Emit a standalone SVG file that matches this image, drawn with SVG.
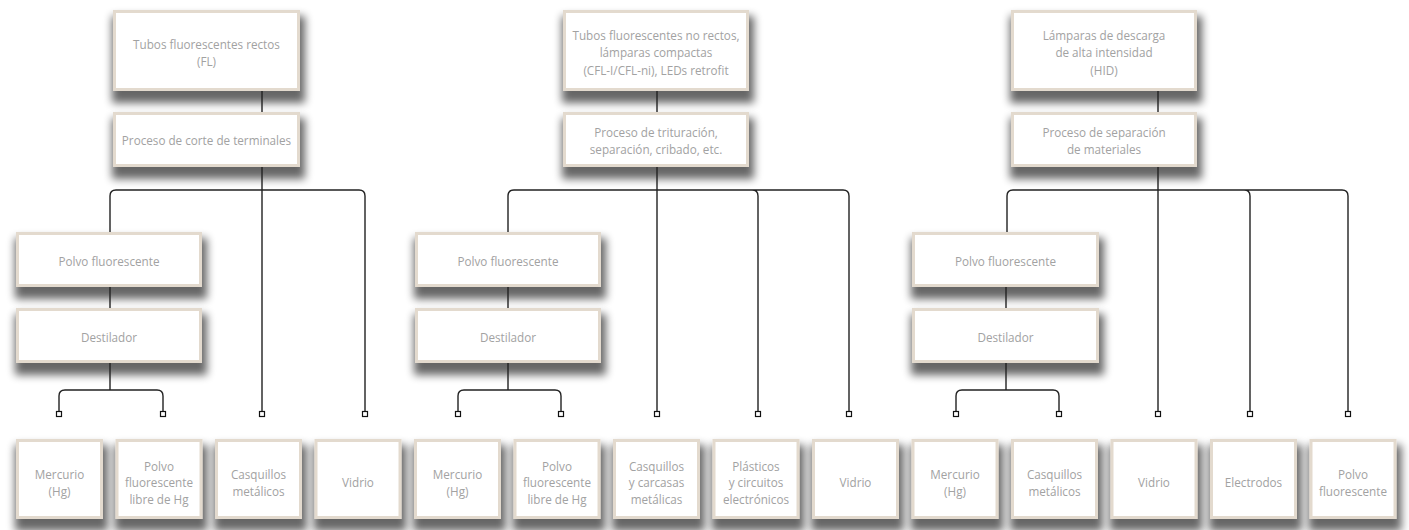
<svg xmlns="http://www.w3.org/2000/svg" width="1409" height="530" viewBox="0 0 1409 530">
<defs>
<filter id="sh" x="-30%" y="-30%" width="165%" height="190%">
<feMorphology in="SourceAlpha" operator="dilate" radius="3"/>
<feGaussianBlur stdDeviation="4"/>
<feOffset dx="2" dy="9" result="o"/>
<feComponentTransfer><feFuncA type="linear" slope="0.6"/></feComponentTransfer>
<feMerge><feMergeNode/><feMergeNode in="SourceGraphic"/></feMerge>
</filter>
</defs>
<style>
.b{fill:#fff;stroke:#e3dace;stroke-width:3;filter:url(#sh)}
.t{font-family:"Open Sans","Liberation Sans",sans-serif;font-size:11.7px;fill:#a2a2a2;text-anchor:middle}
.c{fill:none;stroke:#222;stroke-width:1.4}
.sq{fill:#fff;stroke:#111;stroke-width:1.2}
</style>
<rect width="1409" height="530" fill="#fff"/>
<g id="nodes">
<g id="fl"><rect class="b" x="114.5" y="11.5" width="184" height="78"/><text class="t" x="206.5" y="48.5">Tubos fluorescentes rectos</text><text class="t" x="206.5" y="66">(FL)</text></g>
<g id="p1"><rect class="b" x="114.5" y="113.5" width="184" height="52"/><text class="t" x="206.5" y="145">Proceso de corte de terminales</text></g>
<g id="pf1"><rect class="b" x="17.5" y="233.5" width="183" height="52"/><text class="t" x="109" y="265.5">Polvo fluorescente</text></g>
<g id="d1"><rect class="b" x="17.5" y="309.5" width="183" height="52"/><text class="t" x="109" y="341.5">Destilador</text></g>

<g id="cfl"><rect class="b" x="564.5" y="11.5" width="183" height="78"/><text class="t" x="656" y="39.5">Tubos fluorescentes no rectos,</text><text class="t" x="656" y="57">lámparas compactas</text><text class="t" x="656" y="74.5">(CFL-I/CFL-ni), LEDs retrofit</text></g>
<g id="p2"><rect class="b" x="564.5" y="113.5" width="183" height="52"/><text class="t" x="656" y="137">Proceso de trituración,</text><text class="t" x="656" y="154">separación, cribado, etc.</text></g>
<g id="pf2"><rect class="b" x="416.5" y="233.5" width="183" height="52"/><text class="t" x="508" y="265.5">Polvo fluorescente</text></g>
<g id="d2"><rect class="b" x="416.5" y="309.5" width="183" height="52"/><text class="t" x="508" y="341.5">Destilador</text></g>

<g id="hid"><rect class="b" x="1012.5" y="11.5" width="183" height="78"/><text class="t" x="1104" y="39.5">Lámparas de descarga</text><text class="t" x="1104" y="57">de alta intensidad</text><text class="t" x="1104" y="74.5">(HID)</text></g>
<g id="p3"><rect class="b" x="1012.5" y="113.5" width="183" height="52"/><text class="t" x="1104" y="137">Proceso de separación</text><text class="t" x="1104" y="154">de materiales</text></g>
<g id="pf3"><rect class="b" x="913.5" y="233.5" width="184" height="52"/><text class="t" x="1005.5" y="265.5">Polvo fluorescente</text></g>
<g id="d3"><rect class="b" x="913.5" y="309.5" width="184" height="52"/><text class="t" x="1005.5" y="341.5">Destilador</text></g>

<g id="o1"><rect class="b" x="17.5" y="440.5" width="84" height="77"/><text class="t" x="59.5" y="478.5">Mercurio</text><text class="t" x="59.5" y="495.5">(Hg)</text></g>
<g id="o2"><rect class="b" x="117" y="440.5" width="84" height="77"/><text class="t" x="159" y="470.5">Polvo</text><text class="t" x="159" y="487">fluorescente</text><text class="t" x="159" y="503.5">libre de Hg</text></g>
<g id="o3"><rect class="b" x="216.5" y="440.5" width="84" height="77"/><text class="t" x="258.5" y="478.5">Casquillos</text><text class="t" x="258.5" y="495.5">metálicos</text></g>
<g id="o4"><rect class="b" x="316" y="440.5" width="84" height="77"/><text class="t" x="358" y="487">Vidrio</text></g>
<g id="o5"><rect class="b" x="415.5" y="440.5" width="84" height="77"/><text class="t" x="457.5" y="478.5">Mercurio</text><text class="t" x="457.5" y="495.5">(Hg)</text></g>
<g id="o6"><rect class="b" x="515" y="440.5" width="84" height="77"/><text class="t" x="557" y="470.5">Polvo</text><text class="t" x="557" y="487">fluorescente</text><text class="t" x="557" y="503.5">libre de Hg</text></g>
<g id="o7"><rect class="b" x="614.5" y="440.5" width="84" height="77"/><text class="t" x="656.5" y="470.5">Casquillos</text><text class="t" x="656.5" y="487">y carcasas</text><text class="t" x="656.5" y="503.5">metálicas</text></g>
<g id="o8"><rect class="b" x="714" y="440.5" width="84" height="77"/><text class="t" x="756" y="470.5">Plásticos</text><text class="t" x="756" y="487">y circuitos</text><text class="t" x="756" y="503.5">electrónicos</text></g>
<g id="o9"><rect class="b" x="813.5" y="440.5" width="84" height="77"/><text class="t" x="855.5" y="487">Vidrio</text></g>
<g id="o10"><rect class="b" x="913" y="440.5" width="84" height="77"/><text class="t" x="955" y="478.5">Mercurio</text><text class="t" x="955" y="495.5">(Hg)</text></g>
<g id="o11"><rect class="b" x="1012.5" y="440.5" width="84" height="77"/><text class="t" x="1054.5" y="478.5">Casquillos</text><text class="t" x="1054.5" y="495.5">metálicos</text></g>
<g id="o12"><rect class="b" x="1112" y="440.5" width="84" height="77"/><text class="t" x="1154" y="487">Vidrio</text></g>
<g id="o13"><rect class="b" x="1211.5" y="440.5" width="84" height="77"/><text class="t" x="1253.5" y="487">Electrodos</text></g>
<g id="o14"><rect class="b" x="1311" y="440.5" width="84" height="77"/><text class="t" x="1353" y="478.5">Polvo</text><text class="t" x="1353" y="495.5">fluorescente</text></g>
</g>
<g id="connectors">
<path class="c" d="M262,91V112M262,167V411.5M110,232V196Q110,190 116,190H359Q365,190 365,196V411.5M110,287V308M110,363V390M59,411.5V396Q59,390 65,390H157Q163,390 163,396V411.5"/>
<path class="c" d="M657,91V112M657,167V411.5M508,232V196Q508,190 514,190H843Q849,190 849,196V411.5M752,190Q758,190 758,196V411.5M508,287V308M508,363V390M458,411.5V396Q458,390 464,390H555Q561,390 561,396V411.5"/>
<path class="c" d="M1158,91V112M1158,167V411.5M1007,232V196Q1007,190 1013,190H1342Q1348,190 1348,196V411.5M1244,190Q1250,190 1250,196V411.5M1006,287V308M1006,363V390M956,411.5V396Q956,390 962,390H1053Q1059,390 1059,396V411.5"/>
<g id="ends">
<rect class="sq" x="56.5" y="411.5" width="5" height="5"/>
<rect class="sq" x="160.5" y="411.5" width="5" height="5"/>
<rect class="sq" x="259.5" y="411.5" width="5" height="5"/>
<rect class="sq" x="362.5" y="411.5" width="5" height="5"/>
<rect class="sq" x="455.5" y="411.5" width="5" height="5"/>
<rect class="sq" x="558.5" y="411.5" width="5" height="5"/>
<rect class="sq" x="654.5" y="411.5" width="5" height="5"/>
<rect class="sq" x="755.5" y="411.5" width="5" height="5"/>
<rect class="sq" x="846.5" y="411.5" width="5" height="5"/>
<rect class="sq" x="953.5" y="411.5" width="5" height="5"/>
<rect class="sq" x="1056.5" y="411.5" width="5" height="5"/>
<rect class="sq" x="1155.5" y="411.5" width="5" height="5"/>
<rect class="sq" x="1247.5" y="411.5" width="5" height="5"/>
<rect class="sq" x="1345.5" y="411.5" width="5" height="5"/>
</g>
</g>
</svg>
